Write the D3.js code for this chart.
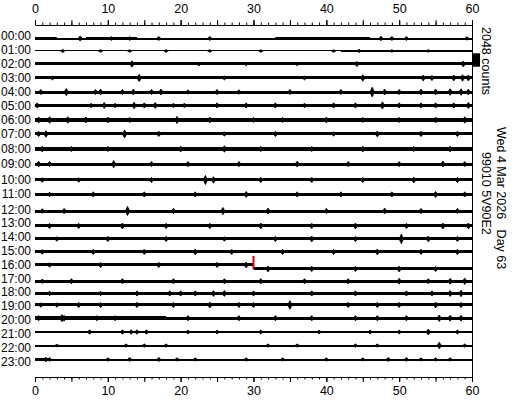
<!DOCTYPE html>
<html lang="en">
<head>
<meta charset="UTF-8">
<title>Helicorder</title>
<script src="https://d3js.org/d3.v7.min.js"></script>
<style>
  body { margin: 0; background: #fff; }
  svg { display: block; font-family: Arial, "Liberation Sans", sans-serif; }
</style>
</head>
<body>
<svg id="heli"></svg>
<script>
// row labels and minute ticks
const hourLabels = ["00:00","01:00","02:00","03:00","04:00","05:00","06:00","07:00",
  "08:00","09:00","10:00","11:00","12:00","13:00","14:00","15:00","16:00","17:00",
  "18:00","19:00","20:00","21:00","22:00","23:00"];
const minuteLabels = [0, 10, 20, 30, 40, 50, 60];

// mean level of each hourly trace (counts, + is up)
const dcOffset = [0, 230, 370, 370, 350, 430, 350, 340, 180, 0, -290, -370,
  -770, -920, -770, -620, -480, -840, -570, -200, -90, -60, 0, 0];

// background noise half-amplitude of each trace (counts)
const noiseLevel = [170, 70, 230, 230, 230, 260, 280, 230, 280, 230, 230, 230,
  230, 250, 230, 230, 230, 260, 250, 230, 250, 160, 160, 160];

// stretches of a trace whose noise differs: [hour, from min, to min, half-amplitude]
const noiseSegments = [
  [0, 0, 3, 230], [0, 3, 7, 90], [0, 7, 14, 220], [0, 14, 18, 100], [0, 26, 33, 100],
  [0, 33, 46, 200], [0, 52, 60, 90],
  [1, 7, 12, 110], [1, 42, 60, 120],
  [20, 0, 18, 290],
  [23, 0, 2, 230], [23, 15, 17, 80]
];

// bursts: [minute, half-amplitude counts] for each hour
const bursts = [
  [[6.2,400],[10.5,300],[13,300],[17,300],[24,300],[47.5,350],[49,300],[51,300],[59.3,250]],
  [[3.8,250],[9,200],[13,200],[18,200],[24,200],[31,200],[41,200],[44.5,250],[49,200],[54,200]],
  [[13.3,500],[22.5,300],[29,250],[36,250],[44.2,400],[58.8,450]],
  [[2.4,300],[14.3,550],[26,300],[37,300],[45,500],[53.3,450],[54.5,400],[57.5,450],[58.7,500],[59.5,450]],
  [[0.8,400],[4.3,550],[8.3,400],[9,450],[12,400],[13.5,450],[16,400],[17.3,450],[21,350],[25,400],
   [28,350],[35,400],[42,400],[46.3,750],[48,450],[50,400],[53,450],[55,450],[57,500],[58.5,500],[59.5,450]],
  [[0.3,400],[7.7,350],[9.5,450],[11,350],[13.6,500],[15,400],[16.5,450],[19,350],[20.5,350],[25,400],
   [29,400],[33,400],[37,350],[41,400],[44,400],[47.7,550],[50,400],[53,400],[55,400],[57.5,400],[59.5,450]],
  [[0.5,450],[2,500],[4.5,500],[7,450],[10,450],[13,400],[19.5,550],[24,450],[30,400],[34,400],
   [40,450],[45,400],[50,400],[55,450],[59,500]],
  [[0.5,400],[1.5,500],[12.3,600],[17,400],[26,350],[33,400],[41,350],[47,450],[53,400],[58,400]],
  [[1,450],[5,400],[10,400],[20,450],[26,500],[31,400],[38,400],[45,450],[52,400],[57,450]],
  [[0.5,450],[2,400],[10.8,550],[16,400],[21,400],[28,400],[36,450],[43,400],[50,400],[56,450],[59,400]],
  [[1,350],[6,350],[16,400],[23.4,700],[24.5,500],[31,400],[38,400],[45,400],[52,450],[58,400]],
  [[2,350],[8,400],[15,400],[22,400],[29,450],[36,400],[42,400],[49,400],[55,450],[59,400]],
  [[1,350],[4,400],[12.7,700],[19,400],[25.8,550],[32,450],[40,400],[48,450],[53,400],[58,400]],
  [[2,400],[6,400],[12,450],[18,400],[24,400],[31,450],[38,400],[44,450],[51,400],[56,450],[59.5,450]],
  [[3,350],[10,400],[18,400],[26,350],[33,400],[38,450],[44,400],[50.3,750],[54,450],[58,400]],
  [[1,350],[8,400],[15,400],[22,450],[27,400],[34,400],[41,400],[47,450],[53,400],[58,400]],
  [[2,350],[9,400],[17,400],[25,400],[29,450],[32,450],[38,400],[44,400],[50,450],[55,400]],
  [[1,350],[5,400],[12,400],[19,400],[26,400],[31,400],[37,400],[43,400],[50,450],[54,400],[57,450],[59,500]],
  [[2,350],[9,350],[14,400],[18.5,400],[20,400],[22,400],[24.5,450],[26,450],[30,400],[38,400],
   [44,400],[51,400],[54.5,400],[57,450],[58.5,500]],
  [[0.8,350],[3,350],[6,400],[9,400],[14,400],[19,400],[24,450],[28,400],[30,400],[35,650],
   [43,400],[47,400],[50,400],[55,450],[58.5,400]],
  [[0.5,400],[3.7,550],[4,450],[8.5,400],[11,400],[21,400],[28,400],[33,400],[38,400],[44,400],
   [47,400],[51,400],[55.5,500],[57,450],[58.5,450]],
  [[7.5,350],[12,350],[13.2,350],[14,350],[15.3,350],[21,300],[25,300],[31,300],[39,300],[46,300],
   [50,300],[54,450],[58,300]],
  [[3,200],[12.5,250],[15,250],[18,250],[32,250],[36,250],[44,250],[47,250],[55.5,500],[59,250]],
  [[1.5,350],[2,300],[10,250],[13,300],[17,300],[19.5,250],[22,250],[29,250],[34,250],[40,250],
   [45,250],[48.5,300],[51,300],[53,250],[55,250],[57,250]]
];

// level shift with a red glitch in the 16:00 trace
const glitch = { hour: 16, minute: 30, top: 910, after: -1090 };
const scaleCounts = 2048;
const scaleLabel = "2048 counts";
const dateText = "Wed 4 Mar 2026\u00a0\u00a0 Day 63";
const stationText = "99010 5V90E2";

const W = 512, H = 400;
const svg = d3.select("#heli").attr("width", W).attr("height", H);

const x = d3.scaleLinear().domain([0, 60]).range([35, 472]);
const yRow = d3.scaleLinear().domain([0, 23]).range([38.5, 359.5]);
const yCount = d3.scaleLinear().domain([0, scaleCounts]).range([0, -13.4]);
const topY = 25, bottomY = 377;

function dcAt(h, m) {
  if (h === glitch.hour && m >= glitch.minute) return glitch.after;
  return dcOffset[h];
}
function base(h, m) { return yRow(h) + yCount(dcAt(h, m)); }

// traces
const traces = svg.append("g").attr("fill", "#000");
hourLabels.forEach((lab, h) => {
  // split the hour at the glitch so the level shift shows
  const cuts = h === glitch.hour ? [0, glitch.minute, 60] : [0, 60];
  const segs = [];
  for (let i = 0; i < cuts.length - 1; i++) segs.push([cuts[i], cuts[i + 1], noiseLevel[h]]);
  segs.concat(noiseSegments.filter(s => s[0] === h).map(s => s.slice(1))).forEach(s => {
    const half = -yCount(s[2]);
    const hgt = Math.max(1, Math.round(2 * half));
    traces.append("rect")
      .attr("x", x(s[0]))
      .attr("width", x(s[1]) - x(s[0]))
      .attr("y", Math.round(base(h, s[0]) - hgt / 2))
      .attr("height", hgt);
  });
  const diamond = d3.line();
  bursts[h].forEach(([m, a]) => {
    const b = base(h, m);
    traces.append("path").attr("d", diamond([
      [x(Math.max(0, m - 0.3)), b], [x(m), b + yCount(a)],
      [x(Math.min(60, m + 0.3)), b], [x(m), b - yCount(a)]
    ]) + "Z").attr("stroke", "#000").attr("stroke-width", 0.8);
  });
});

// hour labels sit on their trace, nudged apart where traces crowd together
const labelY = hourLabels.map((d, h) => base(h, 0));
const minGap = 14;
for (let pass = 0; pass < 20; pass++) {
  for (let i = 1; i < labelY.length; i++) {
    const gap = labelY[i] - labelY[i - 1];
    if (gap < minGap) {
      const push = (minGap - gap) / 2;
      labelY[i - 1] -= push;
      labelY[i] += push;
    }
  }
}
svg.append("g").selectAll("text").data(hourLabels).join("text")
  .attr("x", 31).attr("y", (d, i) => labelY[i]).attr("dy", "0.33em")
  .attr("text-anchor", "end").style("font-size", "12px").attr("fill", "#000")
  .text(d => d);

svg.append("line")
  .attr("x1", x(glitch.minute)).attr("x2", x(glitch.minute))
  .attr("y1", yRow(glitch.hour) + yCount(glitch.top))
  .attr("y2", yRow(glitch.hour) + yCount(glitch.after))
  .attr("stroke", "#e00000").attr("stroke-width", 2);

// axes: minor ticks each minute, longer ticks every 5, labels every 10
function drawAxis(axisFn, yPos, labelPad) {
  const g = svg.append("g").attr("transform", `translate(0,${yPos})`);
  g.append("g").call(axisFn(x).tickValues(d3.range(0, 61)).tickSize(2.5).tickSizeOuter(0).tickFormat(""));
  g.append("g").call(axisFn(x).tickValues(d3.range(0, 61, 5)).tickSize(5).tickSizeOuter(0).tickFormat(""))
    .select(".domain").remove();
  g.append("g").call(axisFn(x).tickValues(minuteLabels).tickSize(5).tickSizeOuter(0).tickPadding(labelPad))
    .call(a => a.select(".domain").remove())
    .selectAll("text").style("font-size", "12.5px").attr("fill", "#000")
    .attr("font-family", null);
  g.selectAll("line,path").attr("stroke", "#000");
}
drawAxis(d3.axisTop, topY, 7.5);
drawAxis(d3.axisBottom, bottomY, 4.5);

// right frame line and scale bar
svg.append("line")
  .attr("x1", x(60) + 0.5).attr("x2", x(60) + 0.5)
  .attr("y1", topY).attr("y2", bottomY + 2)
  .attr("stroke", "#000");
svg.append("rect")
  .attr("x", x(60) + 1).attr("width", 7)
  .attr("y", 53.3).attr("height", -yCount(scaleCounts))
  .attr("fill", "#000");

function sideText(str, xPos, yPos) {
  svg.append("text")
    .attr("transform", `translate(${xPos},${yPos}) rotate(90)`)
    .style("font-size", "12.5px").attr("fill", "#000")
    .text(str);
}
sideText(scaleLabel, 482, 27);
sideText(stationText, 482, 152);
sideText(dateText, 497, 127);
</script>
</body>
</html>
